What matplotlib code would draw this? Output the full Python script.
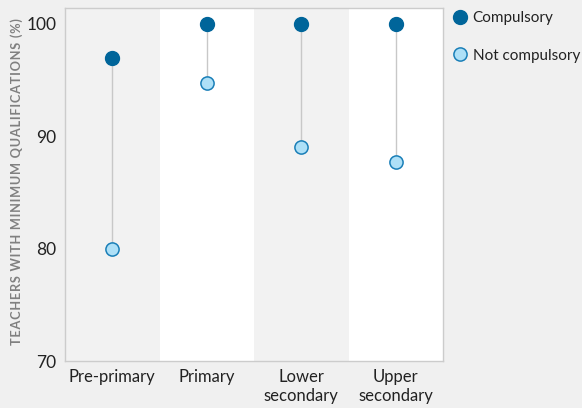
import matplotlib
matplotlib.use("Agg")
import matplotlib.pyplot as plt
from matplotlib.lines import Line2D

categories = ["Pre-primary", "Primary", "Lower\nsecondary", "Upper\nsecondary"]
compulsory = [97, 100, 100, 100]
not_compulsory = [80, 94.7, 89.05, 87.7]
yticks = [70, 80, 90, 100]

plt.rcParams['font.family'] = ['Lato', 'DejaVu Sans']

fig = plt.figure(figsize=(5.82, 4.08), dpi=100, facecolor="#f0f0f0")
ax = fig.add_axes([65/582, 1-361/408, 378/582, 353/408])
ax.set_facecolor("white")

x = list(range(len(categories)))
for i in x:
    if i % 2 == 0:
        ax.axvspan(i-0.5, i+0.5, color="#f2f2f2", zorder=0, lw=0)

for i in x:
    ax.plot([i, i], [not_compulsory[i], compulsory[i]], color="#c8c8c8", lw=1, zorder=1)

dark = "#00659a"
light = "#aee0f7"
edge = "#1a7fb8"
ax.plot(x, compulsory, 'o', ls='none', color=dark, ms=10, zorder=3)
ax.plot(x, not_compulsory, 'o', ls='none', mfc=light, mec=edge, mew=1.1, ms=9.5, zorder=3)

ax.set_xlim(-0.5, 3.5)
ax.set_ylim(70, 101.42)
ax.set_yticks(yticks)
ax.set_xticks(x)
ax.set_xticklabels(categories, fontsize=12, color="#222222", linespacing=1.2)
ax.tick_params(axis='y', labelsize=12.5, colors="#222222", length=0, pad=6)
ax.tick_params(axis='x', length=0, pad=6)
for s in ax.spines.values():
    s.set_color("#cccccc")
    s.set_linewidth(1)

label = "\u200a".join("TEACHERS WITH MINIMUM QUALIFICATIONS (%)")
fig.text(17/582, 1-182/408, label, rotation=90,
         ha='center', va='center', fontsize=9.2, fontweight='bold', color="#808080",
         family=['Lato', 'DejaVu Sans'])

handles = [Line2D([], [], marker='o', ls='none', color=dark, ms=10),
           Line2D([], [], marker='o', ls='none', mfc=light, mec=edge, mew=1.1, ms=9.5)]
fig.legend(handles, ["Compulsory", "Not compulsory"], loc='upper left',
           bbox_to_anchor=(446/582, 1-5/408), frameon=False, fontsize=11,
           handletextpad=0.35, labelspacing=1.55, borderaxespad=0, handlelength=1.0,
           labelcolor="#222222")

fig.savefig("out.png", dpi=100, facecolor=fig.get_facecolor())
